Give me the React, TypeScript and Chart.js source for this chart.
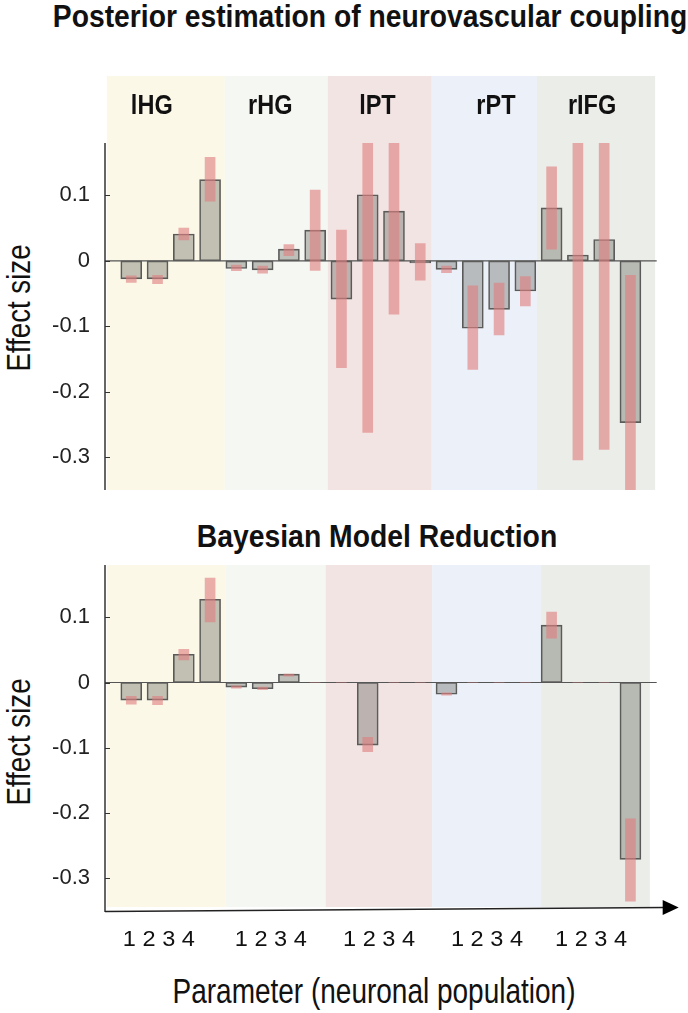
import React, { useEffect, useLayoutEffect, useRef, useState } from 'react';
import { Chart, registerables } from 'chart.js';

Chart.register(...registerables);

// ---------------- data ----------------
const regions = ['lHG', 'rHG', 'lPT', 'rPT', 'rIFG'];
const populationLabel = '1 2 3 4';
const parameterIndex = [1, 2, 3, 4, 5, 6, 7, 8, 9, 10, 11, 12, 13, 14, 15, 16, 17, 18, 19, 20];
const yTickValues = [-0.3, -0.2, -0.1, 0, 0.1];
const yTickLabels = ['-0.3', '-0.2', '-0.1', '0', '0.1'];

// Posterior estimation of neurovascular coupling
const posteriorMean = [-0.0275, -0.0275, 0.041, 0.124, -0.0117, -0.0137, 0.018, 0.047, -0.0585, 0.101, 0.076, -0.003, -0.013, -0.103, -0.074, -0.046, 0.081, 0.009, 0.0326, -0.247];
const posteriorLow = [-0.033, -0.035, 0.032, 0.091, -0.015, -0.019, 0.008, -0.0147, -0.163, -0.262, -0.0815, -0.0295, -0.018, -0.166, -0.113, -0.069, 0.018, -0.304, -0.288, -0.36];
const posteriorHigh = [-0.023, -0.022, 0.05, 0.158, -0.0066, -0.008, 0.025, 0.108, 0.047, 0.19, 0.19, 0.0265, -0.008, -0.038, -0.034, -0.024, 0.1435, 0.19, 0.19, -0.022];

// Bayesian Model Reduction
const bmrMean = [-0.027, -0.027, 0.0433, 0.1276, -0.007, -0.0096, 0.0128, 0, 0, -0.096, 0, 0, -0.018, 0, 0, 0, 0.088, 0, 0, -0.271];
const bmrLow = [-0.033, -0.034, 0.0346, 0.093, -0.0086, -0.011, 0.0097, 0, 0, -0.106, 0, 0, -0.0195, 0, 0, 0, 0.068, 0, 0, -0.335];
const bmrHigh = [-0.021, -0.021, 0.051, 0.16, -0.005, -0.007, 0.013, 0, 0, -0.084, 0, 0, -0.016, 0, 0, 0, 0.108, 0, 0, -0.209];

// ---------------- layout / style ----------------
const FONT = "'Liberation Sans', Arial, Helvetica, sans-serif";
const regionColors = ['#FBF8E8', '#F5F7F2', '#F3E4E4', '#ECF0F8', '#EBEDE8'];
const regionBoundsTop = [0.07, 4.56, 8.48, 12.44, 16.44, 20.94];
const regionBoundsBottom = [0.07, 4.6, 8.4, 12.45, 16.6, 20.74];
const regionLabelX = [1.78, 6.29, 10.37, 14.88, 18.54];
const groupLabelX = [2.05, 6.31, 10.43, 14.54, 18.5];
const BAR_FILL = 'rgba(100,100,92,0.38)';
const BAR_EDGE = '#5a5a5a';
const ERR_FILL = 'rgba(222,128,128,0.62)';
const AXIS = '#333';

function drawScaledText(ctx: CanvasRenderingContext2D, text: string, cx: number, base: number, font: string, sx: number, color = '#111') {
  ctx.save();
  ctx.font = font;
  ctx.fillStyle = color;
  ctx.textAlign = 'center';
  ctx.textBaseline = 'alphabetic';
  ctx.translate(cx, base);
  ctx.scale(sx, 1);
  ctx.fillText(text, 0, 0);
  ctx.restore();
}

type PanelCfg = {
  bounds: number[];
  bgTop: number | null;
  bgBottomInset: number;
  showRegionLabels: boolean;
  regionLabelBase: number;
  showGroupLabels: boolean;
  groupLabelBase: number;
  arrow: boolean;
};

function makePlugin(cfg: PanelCfg) {
  return {
    id: 'panelDecor',
    beforeDatasetsDraw(chart: any) {
      const { ctx, chartArea } = chart;
      const x = chart.scales.x;
      const y = chart.scales.y;
      const top = cfg.bgTop == null ? chartArea.top : cfg.bgTop;
      const bottom = chartArea.bottom - cfg.bgBottomInset;
      ctx.save();
      for (let i = 0; i < regions.length; i++) {
        const x0 = x.getPixelForValue(cfg.bounds[i]);
        const x1 = x.getPixelForValue(cfg.bounds[i + 1]);
        ctx.fillStyle = regionColors[i];
        ctx.fillRect(x0, top, x1 - x0, bottom - top);
      }
      const y0 = y.getPixelForValue(0);
      ctx.strokeStyle = '#555';
      ctx.lineWidth = 1.2;
      ctx.beginPath();
      ctx.moveTo(chartArea.left, y0);
      ctx.lineTo(chartArea.right, y0);
      ctx.stroke();
      ctx.restore();
    },
    afterDraw(chart: any) {
      const { ctx, chartArea } = chart;
      const x = chart.scales.x;
      const y = chart.scales.y;
      ctx.save();
      ctx.strokeStyle = AXIS;
      ctx.lineWidth = 1.5;
      ctx.beginPath();
      ctx.moveTo(chartArea.left, chartArea.top);
      ctx.lineTo(chartArea.left, chartArea.bottom + (cfg.arrow ? 1 : 0));
      ctx.stroke();
      ctx.lineWidth = 1;
      for (const v of yTickValues) {
        const py = Math.round(y.getPixelForValue(v)) + 0.5;
        ctx.beginPath();
        ctx.moveTo(chartArea.left, py);
        ctx.lineTo(chartArea.left + 5, py);
        ctx.stroke();
      }
      if (cfg.arrow) {
        const yb = chartArea.bottom + 0.5;
        const xr = chartArea.right;
        ctx.strokeStyle = '#222';
        ctx.lineWidth = 1.5;
        ctx.beginPath();
        ctx.moveTo(chartArea.left, yb);
        ctx.lineTo(xr + 8, yb - 4);
        ctx.stroke();
        ctx.fillStyle = '#000';
        ctx.beginPath();
        ctx.moveTo(xr + 6, yb - 4 - 7.5);
        ctx.lineTo(xr + 22, yb - 4);
        ctx.lineTo(xr + 6, yb - 4 + 7.5);
        ctx.closePath();
        ctx.fill();
      }
      if (cfg.showRegionLabels) {
        const font = `bold 28px ${FONT}`;
        for (let i = 0; i < regions.length; i++) {
          drawScaledText(ctx, regions[i], x.getPixelForValue(regionLabelX[i]), cfg.regionLabelBase, font, 0.84);
        }
      }
      if (cfg.showGroupLabels) {
        const font = `22px ${FONT}`;
        ctx.font = font;
        const w = ctx.measureText(populationLabel).width;
        for (let i = 0; i < groupLabelX.length; i++) {
          drawScaledText(ctx, populationLabel, x.getPixelForValue(groupLabelX[i]), cfg.groupLabelBase, font, 72 / w);
        }
      }
      ctx.restore();
    },
  };
}

function makeChart(canvas: HTMLCanvasElement, mean: number[], low: number[], high: number[], padTop: number, padBottom: number, cfg: PanelCfg) {
  return new Chart(canvas, {
    type: 'bar',
    data: {
      datasets: [
        {
          label: 'interval',
          data: parameterIndex.map((p, i) => ({ x: p, y: [low[i], high[i]] })) as any,
          backgroundColor: ERR_FILL,
          borderWidth: 0,
          barThickness: 10,
          grouped: false,
          order: 0,
        } as any,
        {
          label: 'effect',
          data: parameterIndex.map((p, i) => ({ x: p, y: mean[i] })) as any,
          backgroundColor: BAR_FILL,
          borderColor: BAR_EDGE,
          borderWidth: 1,
          borderSkipped: false,
          barThickness: 21,
          grouped: false,
          order: 1,
        } as any,
      ],
    },
    options: {
      responsive: false,
      maintainAspectRatio: false,
      animation: false,
      layout: { padding: { top: padTop, bottom: padBottom, left: 0, right: 31.3 }, autoPadding: false },
      plugins: { legend: { display: false }, tooltip: { enabled: false }, title: { display: false } },
      scales: {
        x: { type: 'linear', min: 0, max: 21, offset: false, display: false },
        y: {
          type: 'linear',
          min: -0.35,
          max: 0.18,
          afterFit: (s: any) => {
            s.width = 105;
            s.paddingTop = 0;
            s.paddingBottom = 0;
            s.paddingLeft = 0;
            s.paddingRight = 0;
          },
          afterBuildTicks: (s: any) => { s.ticks = yTickValues.map((v) => ({ value: v })); },
          ticks: {
            callback: (v: any) => {
              const k = yTickValues.findIndex((t) => Math.abs(t - v) < 1e-9);
              return k >= 0 ? yTickLabels[k] : '';
            },
            font: { family: FONT, size: 22 },
            color: '#222',
            padding: 15,
          },
          grid: { display: false, drawTicks: false },
          border: { display: false },
        },
      },
    } as any,
    plugins: [makePlugin(cfg)],
  });
}

function FitText(props: { text: string; cx: number; cy: number; size: number; bold?: boolean; width: number; rotate?: number }) {
  const { text, cx, cy, size, bold, width, rotate = 0 } = props;
  const ref = useRef<HTMLDivElement>(null);
  const [k, setK] = useState(1);
  useLayoutEffect(() => {
    const el = ref.current;
    if (!el) return;
    const w = el.offsetWidth;
    if (w > 0) setK(width / w);
  }, [text, width, size]);
  return (
    <div
      ref={ref}
      style={{
        position: 'absolute',
        left: cx,
        top: cy,
        whiteSpace: 'nowrap',
        fontFamily: FONT,
        fontSize: size,
        fontWeight: bold ? 700 : 400,
        lineHeight: 1,
        color: '#111',
        transform: `translate(-50%,-50%) rotate(${rotate}deg) scaleX(${k})`,
      }}
    >
      {text}
    </div>
  );
}

const cyFromBase = (base: number, size: number) => base - 0.3465 * size;

export default function App() {
  const topRef = useRef<HTMLCanvasElement>(null);
  const botRef = useRef<HTMLCanvasElement>(null);

  useEffect(() => {
    const c1 = makeChart(topRef.current!, posteriorMean, posteriorLow, posteriorHigh, 83, 10, {
      bounds: regionBoundsTop,
      bgTop: 16,
      bgBottomInset: 0,
      showRegionLabels: true,
      regionLabelBase: 54,
      showGroupLabels: false,
      groupLabelBase: 0,
      arrow: false,
    });
    const c2 = makeChart(botRef.current!, bmrMean, bmrLow, bmrHigh, 15, 49, {
      bounds: regionBoundsBottom,
      bgTop: null,
      bgBottomInset: 4,
      showRegionLabels: false,
      regionLabelBase: 0,
      showGroupLabels: true,
      groupLabelBase: 396,
      arrow: true,
    });
    return () => {
      c1.destroy();
      c2.destroy();
    };
  }, []);

  return (
    <div style={{ position: 'absolute', left: 0, top: 0, width: 688, height: 1013, background: '#fff', overflow: 'hidden' }}>
      <FitText text="Posterior estimation of neurovascular coupling" cx={370} cy={cyFromBase(27, 32)} size={32} bold width={634} />
      <FitText text="Bayesian Model Reduction" cx={377} cy={cyFromBase(547, 31)} size={31} bold width={360} />
      <FitText text="Effect size" cx={18.2} cy={308.3} size={34} width={127} rotate={-90} />
      <FitText text="Effect size" cx={18.2} cy={741.5} size={34} width={127} rotate={-90} />
      <FitText text="Parameter (neuronal population)" cx={373.5} cy={cyFromBase(1002, 35)} size={35} width={403} />
      <canvas ref={topRef} width={688} height={440} style={{ position: 'absolute', left: 0, top: 60, width: 688, height: 440 }} />
      <canvas ref={botRef} width={688} height={410} style={{ position: 'absolute', left: 0, top: 550, width: 688, height: 410 }} />
    </div>
  );
}
